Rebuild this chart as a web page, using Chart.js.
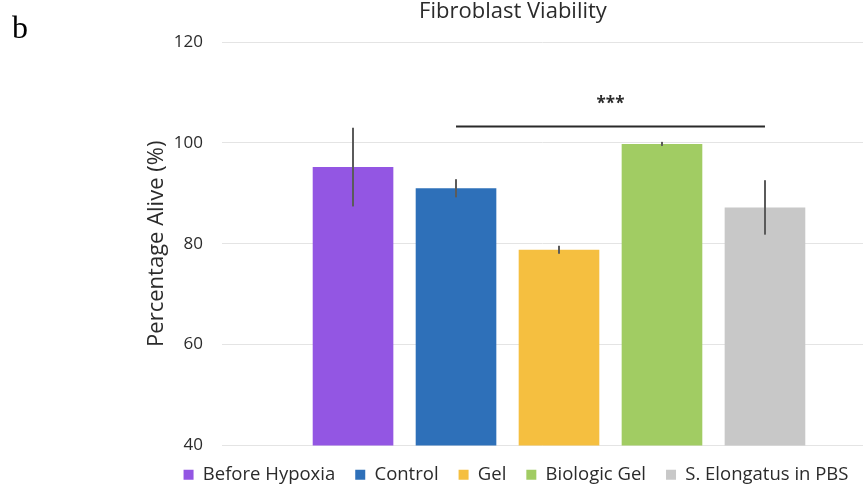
<!DOCTYPE html>
<html>
<head>
<meta charset="utf-8">
<script src="https://cdn.jsdelivr.net/npm/chart.js@4.4.1/dist/chart.umd.min.js"></script>
<style>
    html, body { margin: 0; padding: 0; background: #fff; }
</style>
</head>
<body>
<canvas id="chart" width="863" height="491"></canvas>
<script>
// values
const groups = ["Before Hypoxia", "Control", "Gel", "Biologic Gel", "S. Elongatus in PBS"];
const means = [95.2, 91.0, 78.8, 99.8, 87.2];
const errors = [7.8, 1.8, 0.8, 0.4, 5.4];
const colors = ["#9356e3", "#2e70b9", "#f5bf40", "#a1cc63", "#c8c8c8"];
const yTicks = [40, 60, 80, 100, 120];

// significance bracket: Control .. S. Elongatus
const sigFrom = 1;
const sigTo = 4;
const sigLevel = 103.4;
const sigText = "***";

const FONT = "'Open Sans', sans-serif";
const TEXT = "#2b2b2b";

const extras = {
    id: "extras",
    afterLayout(chart) {
        // the bar group sits a bit right of the plot centre in the original
        const x = chart.scales.x;
        x.right = x.left + 674;
        x.width = 674;
        x.configure();
    },
    afterDatasetsDraw(chart) {
        const { ctx } = chart;
        const y = chart.scales.y;
        ctx.save();
        ctx.strokeStyle = "#5b5b5b";
        ctx.lineWidth = 2;
        means.forEach((m, i) => {
            const bar = chart.getDatasetMeta(i).data[0];
            ctx.beginPath();
            ctx.moveTo(bar.x, y.getPixelForValue(m - errors[i]));
            ctx.lineTo(bar.x, y.getPixelForValue(m + errors[i]));
            ctx.stroke();
        });

        const x1 = chart.getDatasetMeta(sigFrom).data[0].x;
        const x2 = chart.getDatasetMeta(sigTo).data[0].x;
        const ly = Math.round(y.getPixelForValue(sigLevel)) + 0.5;
        ctx.strokeStyle = "#2a2a2a";
        ctx.lineWidth = 2;
        ctx.beginPath();
        ctx.moveTo(x1, ly);
        ctx.lineTo(x2, ly);
        ctx.stroke();

        ctx.fillStyle = TEXT;
        ctx.font = "bold 17px " + FONT;
        ctx.textAlign = "center";
        ctx.textBaseline = "middle";
        ctx.fillText(sigText, (x1 + x2) / 2, ly - 22);
        ctx.restore();
    },
    afterDraw(chart) {
        const { ctx } = chart;
        ctx.save();
        ctx.fillStyle = TEXT;
        ctx.textBaseline = "middle";
        ctx.textAlign = "center";
        ctx.font = "22px " + FONT;
        ctx.fillText("Fibroblast Viability", 513, 12);
        ctx.fillStyle = "#000";
        ctx.textAlign = "left";
        ctx.textBaseline = "alphabetic";
        ctx.font = "32px 'Liberation Serif', 'DejaVu Serif', serif";
        ctx.fillText("b", 12, 38);
        ctx.restore();
    },
};

const datasets = groups.map((g, i) => ({
    label: g,
    data: [means[i]],
    backgroundColor: colors[i],
    borderWidth: 0,
    categoryPercentage: 0.764,
    barPercentage: 0.783,
}));

new Chart(document.getElementById("chart"), {
    type: "bar",
    data: { labels: [""], datasets },
    plugins: [extras],
    options: {
        responsive: false,
        animation: false,
        layout: { padding: { left: 136, right: -33, top: 42, bottom: -3 } },
        scales: {
            x: { display: false },
            y: {
                min: yTicks[0],
                max: yTicks[yTicks.length - 1],
                afterBuildTicks(scale) {
                    scale.ticks = yTicks.map((v) => ({ value: v }));
                },
                afterFit(scale) {
                    scale.width = 86;
                },
                border: { display: false },
                grid: { color: "#e4e4e4", lineWidth: 1, drawTicks: false },
                ticks: {
                    padding: 19,
                    color: TEXT,
                    font: { family: FONT, size: 17 },
                },
                title: {
                    display: true,
                    text: "Percentage Alive (%)",
                    color: TEXT,
                    font: { family: FONT, size: 22 },
                    padding: { top: 8, bottom: 0 },
                },
            },
        },
        plugins: {
            title: { display: false },
            tooltip: { enabled: false },
            legend: {
                position: "bottom",
                labels: {
                    boxWidth: 10,
                    boxHeight: 10,
                    padding: 20,
                    color: TEXT,
                    font: { family: FONT, size: 18.5 },
                },
            },
        },
    },
});
</script>
</body>
</html>
